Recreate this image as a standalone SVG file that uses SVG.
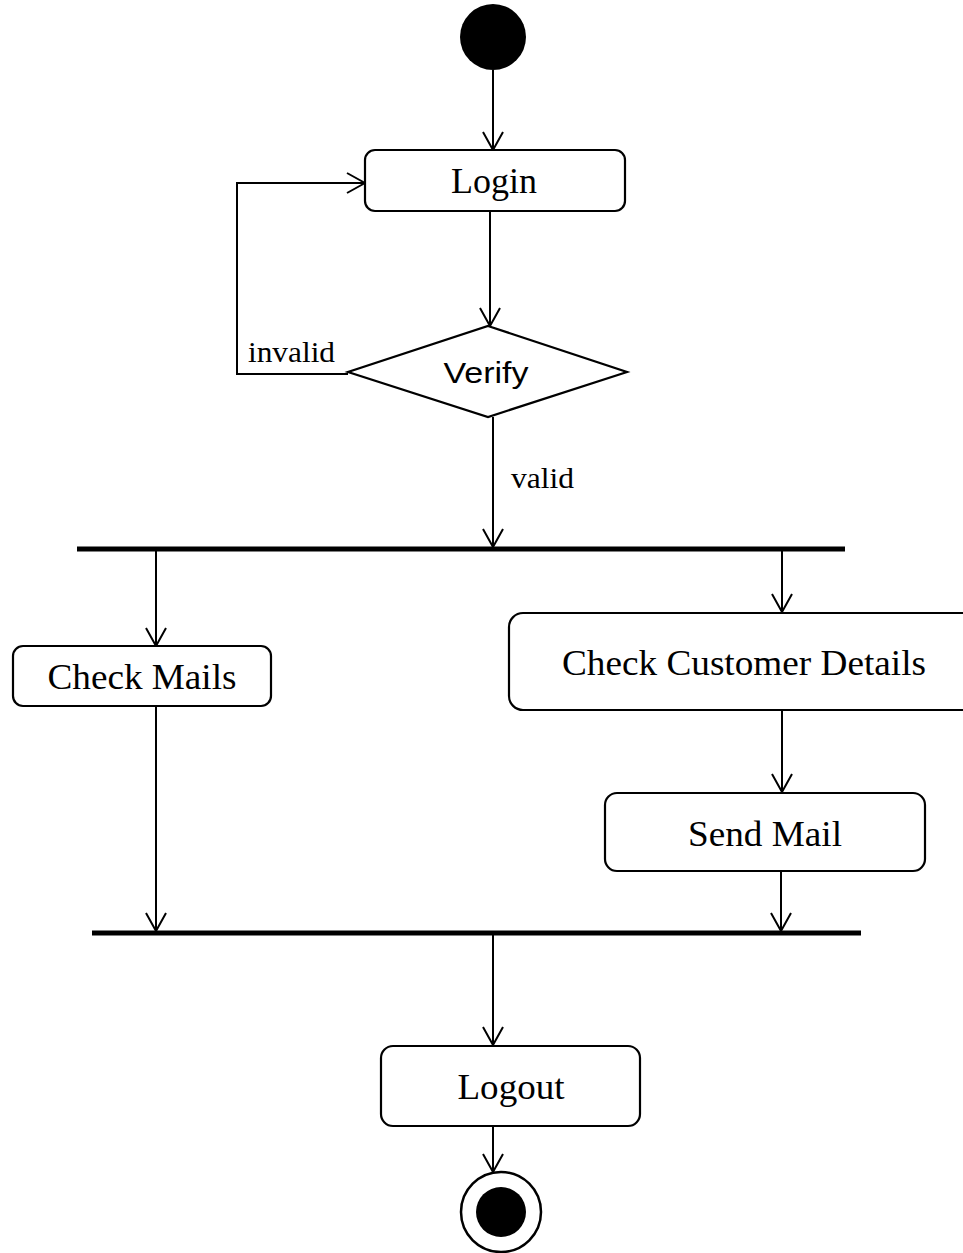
<svg xmlns="http://www.w3.org/2000/svg" width="963" height="1253" viewBox="0 0 963 1253">
<style>
.box{fill:#fff;stroke:#000;stroke-width:2.2}
.lbl{font-family:"Liberation Serif","Times New Roman",serif;font-size:36px;fill:#000;text-anchor:middle}
.guard{font-family:"Liberation Serif","Times New Roman",serif;font-size:30px;fill:#000}
.edge{fill:none;stroke:#000;stroke-width:2}
.bar{stroke:#000;stroke-width:5}
</style>
<defs>
<marker id="arr" viewBox="0 0 20 22" refX="19" refY="11" markerWidth="20" markerHeight="22" markerUnits="userSpaceOnUse" orient="auto">
<path d="M1,1 L19,11 L1,21" fill="none" stroke="#000" stroke-width="2"/>
</marker>
</defs>
<g id="start"><circle cx="493" cy="37" r="33" fill="#000"/></g>
<g id="login"><rect class="box" x="365" y="150" width="260" height="61" rx="10"/><text class="lbl" x="494" y="193">Login</text></g>
<g id="verify"><polygon class="box" points="488,326 627,372 488,417 348,372"/><text x="486" y="383" font-family="'Liberation Sans',Arial,sans-serif" font-size="29" text-anchor="middle" textLength="85" lengthAdjust="spacingAndGlyphs">Verify</text></g>
<g id="fork"><line class="bar" x1="77" y1="549" x2="845" y2="549"/></g>
<g id="checkMails"><rect class="box" x="13" y="646" width="258" height="60" rx="10"/><text class="lbl" x="142" y="689" textLength="189" lengthAdjust="spacingAndGlyphs">Check Mails</text></g>
<g id="checkCustomer"><rect class="box" x="509" y="613" width="470" height="97" rx="14"/><text class="lbl" x="744" y="675" textLength="364" lengthAdjust="spacingAndGlyphs">Check Customer Details</text></g>
<g id="sendMail"><rect class="box" x="605" y="793" width="320" height="78" rx="12"/><text class="lbl" x="765" y="846" textLength="154" lengthAdjust="spacingAndGlyphs">Send Mail</text></g>
<g id="join"><line class="bar" x1="92" y1="933" x2="861" y2="933"/></g>
<g id="logout"><rect class="box" x="381" y="1046" width="259" height="80" rx="12"/><text class="lbl" x="511" y="1099" textLength="107" lengthAdjust="spacingAndGlyphs">Logout</text></g>
<g id="end"><circle cx="501" cy="1212" r="40" fill="#fff" stroke="#000" stroke-width="2.5"/><circle cx="501" cy="1212" r="25" fill="#000"/></g>
<g id="connectors">
<line class="edge" x1="493" y1="70" x2="493" y2="150" marker-end="url(#arr)"/>
<line class="edge" x1="490" y1="211" x2="490" y2="326" marker-end="url(#arr)"/>
<polyline class="edge" points="348,374 237,374 237,183 365,183" marker-end="url(#arr)" stroke-width="1.6"/>
<line class="edge" x1="493" y1="417" x2="493" y2="547" marker-end="url(#arr)"/>
<line class="edge" x1="156" y1="551" x2="156" y2="646" marker-end="url(#arr)"/>
<line class="edge" x1="782" y1="551" x2="782" y2="612" marker-end="url(#arr)"/>
<line class="edge" x1="782" y1="710" x2="782" y2="792" marker-end="url(#arr)"/>
<line class="edge" x1="156" y1="706" x2="156" y2="931" marker-end="url(#arr)"/>
<line class="edge" x1="781" y1="871" x2="781" y2="931" marker-end="url(#arr)"/>
<line class="edge" x1="493" y1="935" x2="493" y2="1045" marker-end="url(#arr)"/>
<line class="edge" x1="493" y1="1126" x2="493" y2="1172" marker-end="url(#arr)"/>
<text class="guard" x="248" y="362" textLength="87" lengthAdjust="spacingAndGlyphs">invalid</text>
<text class="guard" x="511" y="488" textLength="63" lengthAdjust="spacingAndGlyphs">valid</text>
</g>
</svg>
